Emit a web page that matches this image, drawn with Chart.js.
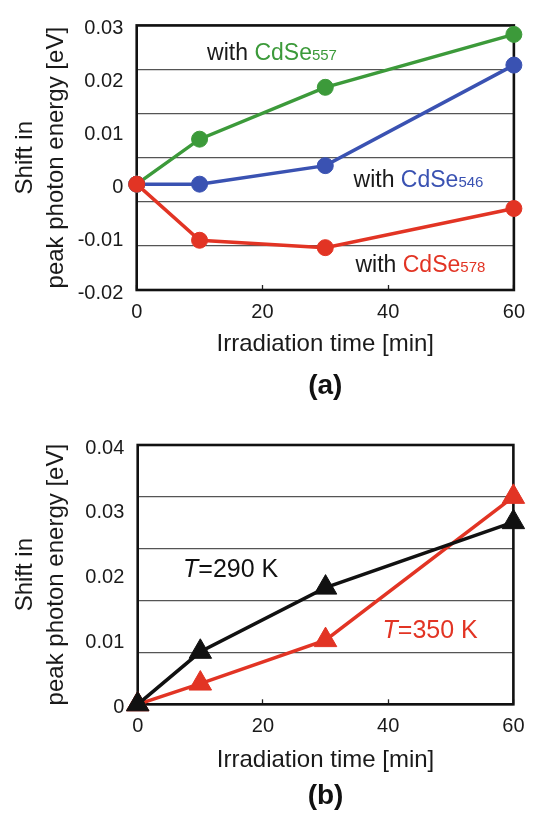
<!DOCTYPE html>
<html lang="en">

<head>
    <meta charset="UTF-8">
    <title>Peak photon energy shift</title>
    <script src="https://cdn.jsdelivr.net/npm/chart.js@4.4.0/dist/chart.umd.min.js"></script>
    <style>
        body { margin: 0; background: #fff; }
        canvas { display: block; }
    </style>
</head>

<body>
    <canvas id="chartA" width="540" height="406"></canvas>
    <canvas id="chartB" width="540" height="407"></canvas>

    <script type="text/javascript">

        // irradiation times [min]
        const timeMin = [0, 10, 30, 60];

        // (a) shift [eV] with the three CdSe samples
        const shiftCdSe557 = [0, 0.0085, 0.0183, 0.0283];
        const shiftCdSe546 = [0, 0.0000, 0.0035, 0.0225];
        const shiftCdSe578 = [0, -0.0106, -0.0120, -0.0046];

        // (b) shift [eV] at two temperatures
        const shift290K = [0, 0.0081, 0.0180, 0.0281];
        const shift350K = [0, 0.0032, 0.0099, 0.0320];

        const xTicks = [0, 20, 40, 60];
        const yTicksA = [-0.02, -0.01, 0, 0.01, 0.02, 0.03];
        const yTicksB = [0, 0.01, 0.02, 0.03, 0.04];

        const FONT = "'Liberation Sans', Arial, Helvetica, sans-serif";
        const INK = '#1a1a1a';
        const GREEN = '#3c9a3a';
        const BLUE = '#3a52b2';
        const RED = '#e23424';

        Chart.defaults.font.family = FONT;
        Chart.defaults.color = INK;

        function points(ys) {
            return timeMin.map((t, i) => ({ x: t, y: ys[i] }));
        }

        function yLabel(v) {
            return v === 0 ? '0' : v.toFixed(2);
        }

        // box around the plot area
        const framePlugin = {
            id: 'frame',
            beforeDatasetsDraw(chart) {
                const a = chart.chartArea, ctx = chart.ctx;
                ctx.save();
                ctx.lineWidth = 2.6;
                ctx.strokeStyle = '#111';
                ctx.strokeRect(a.left, a.top, a.right - a.left, a.bottom - a.top);
                ctx.restore();
            }
        };

        // text labels placed in data coordinates, made of coloured runs
        const notesPlugin = {
            id: 'notes',
            afterDatasetsDraw(chart, args, opts) {
                const ctx = chart.ctx, xs = chart.scales.x, ys = chart.scales.y;
                ctx.save();
                ctx.textBaseline = 'alphabetic';
                ctx.textAlign = 'left';
                (opts.items || []).forEach(n => {
                    let px = xs.getPixelForValue(n.x);
                    const py = ys.getPixelForValue(n.y);
                    n.parts.forEach(p => {
                        ctx.font = (p.italic ? 'italic ' : '') + p.size + 'px ' + FONT;
                        ctx.fillStyle = p.color;
                        ctx.fillText(p.text, px, py);
                        px += ctx.measureText(p.text).width;
                    });
                });
                ctx.restore();
            }
        };

        function sample(name, color, x, y) {
            return {
                x: x, y: y, parts: [
                    { text: 'with ', color: INK, size: 23 },
                    { text: 'CdSe', color: color, size: 23 },
                    { text: name, color: color, size: 15 }
                ]
            };
        }

        function temperature(label, color, x, y) {
            return {
                x: x, y: y, parts: [
                    { text: 'T', color: color, size: 25, italic: true },
                    { text: label, color: color, size: 25 }
                ]
            };
        }

        function circleSet(data, color) {
            return {
                data: points(data),
                borderColor: color,
                backgroundColor: color,
                borderWidth: 3.5,
                pointRadius: 8,
                pointHoverRadius: 8,
                pointBorderWidth: 1,
                pointBackgroundColor: color,
                pointBorderColor: color,
                tension: 0,
                clip: false
            };
        }

        function triangleSet(data, color) {
            return {
                data: points(data),
                borderColor: color,
                backgroundColor: color,
                borderWidth: 3.5,
                pointStyle: 'triangle',
                pointRadius: 13,
                pointHoverRadius: 13,
                pointBorderWidth: 1,
                pointBackgroundColor: color,
                pointBorderColor: color,
                tension: 0,
                clip: false
            };
        }

        // common scale setup; geometry numbers place the plot box in the canvas
        function buildOptions(g) {
            return {
                responsive: false,
                animation: false,
                events: [],
                layout: { padding: { top: g.top, right: g.right, left: 0, bottom: 0 } },
                plugins: {
                    legend: { display: false },
                    tooltip: { enabled: false },
                    notes: { items: g.notes }
                },
                scales: {
                    x: {
                        type: 'linear',
                        position: 'bottom',
                        weight: 0,
                        min: 0,
                        max: 60,
                        afterBuildTicks: s => { s.ticks = xTicks.map(v => ({ value: v })); },
                        afterFit: s => { s.height = g.xHeight; },
                        ticks: { font: { size: 20 }, padding: g.xTickPad, color: INK },
                        grid: {
                            display: true, drawOnChartArea: false, drawTicks: true,
                            tickLength: -5, tickColor: '#222', tickWidth: 1.3
                        },
                        border: { display: false },
                        title: {
                            display: true, text: 'Irradiation time [min]', color: INK,
                            font: { size: 24 }, padding: { top: 0, bottom: g.xTitlePad }
                        }
                    },
                    cap: {
                        type: 'linear',
                        position: 'bottom',
                        weight: 1,
                        min: 0,
                        max: 60,
                        afterFit: s => { s.height = g.capHeight; },
                        ticks: { display: false },
                        grid: { display: false },
                        border: { display: false },
                        title: {
                            display: true, text: g.caption, color: '#111',
                            font: { size: 28, weight: 'bold', lineHeight: 1.2 },
                            padding: { top: 0, bottom: g.capPad }
                        }
                    },
                    y: {
                        type: 'linear',
                        position: 'left',
                        weight: 1,
                        min: g.yTicks[0],
                        max: g.yTicks[g.yTicks.length - 1],
                        afterBuildTicks: s => { s.ticks = g.yTicks.map(v => ({ value: v })); },
                        afterFit: s => { s.width = g.left; },
                        ticks: {
                            font: { size: 20 }, padding: 13.4, labelOffset: 3, color: INK,
                            callback: yLabel
                        },
                        grid: { display: false, drawTicks: false },
                        border: { display: false },
                        title: {
                            display: true, text: ['Shift in', 'peak photon energy [eV]'], color: INK,
                            font: { size: 24, lineHeight: 1.3 }, padding: { top: 9.4, bottom: 0 }
                        }
                    },
                    // horizontal rules of the plot box
                    rules: {
                        type: 'linear',
                        position: 'left',
                        weight: 0,
                        min: 0,
                        max: g.rules,
                        afterFit: s => { s.width = 0; },
                        ticks: { display: false, stepSize: 1 },
                        grid: { color: '#555', lineWidth: 1.2, drawTicks: false },
                        border: { display: false }
                    }
                }
            };
        }

        new Chart(document.getElementById('chartA').getContext('2d'), {
            type: 'line',
            data: {
                datasets: [
                    circleSet(shiftCdSe578, RED),
                    circleSet(shiftCdSe546, BLUE),
                    circleSet(shiftCdSe557, GREEN)
                ]
            },
            options: buildOptions({
                top: 20, right: 11.7, left: 136.7,
                xHeight: 80, xTickPad: 15, xTitlePad: 11.3,
                capHeight: 36, capPad: 2.5, caption: '(a)',
                yTicks: yTicksA, rules: 6,
                notes: [
                    sample('557', GREEN, 11.2, 0.0234),
                    sample('546', BLUE, 34.5, -0.0006),
                    sample('578', RED, 34.8, -0.0166)
                ]
            }),
            plugins: [framePlugin, notesPlugin]
        });

        new Chart(document.getElementById('chartB').getContext('2d'), {
            type: 'line',
            data: {
                datasets: [
                    triangleSet(shift290K, '#111'),
                    triangleSet(shift350K, RED)
                ]
            },
            options: buildOptions({
                top: 39, right: 18.3, left: 137.7,
                xHeight: 74.7, xTickPad: 15.5, xTitlePad: 4.6,
                capHeight: 34, capPad: 0, caption: '(b)',
                yTicks: yTicksB, rules: 5,
                notes: [
                    temperature('=290 K', '#111', 7.25, 0.0196),
                    temperature('=350 K', RED, 39.1, 0.0103)
                ]
            }),
            plugins: [framePlugin, notesPlugin]
        });

    </script>

</body>

</html>
